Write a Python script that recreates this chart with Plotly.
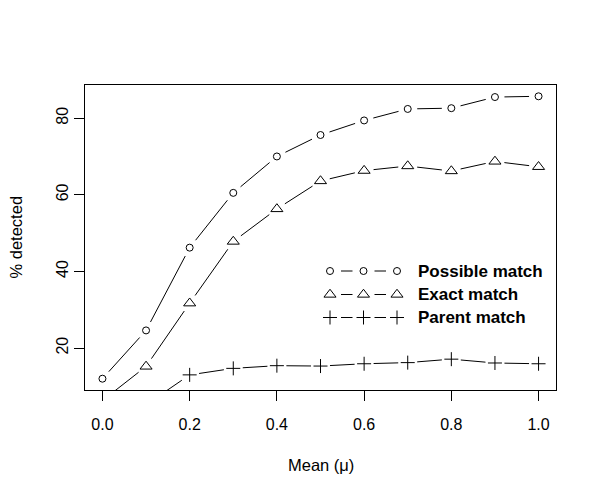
import plotly.graph_objects as go
import numpy as np

# ---- data ----
mu = [0.0, 0.1, 0.2, 0.3, 0.4, 0.5, 0.6, 0.7, 0.8, 0.9, 1.0]
possible = [12.0, 24.6, 46.2, 60.5, 70.0, 75.6, 79.4, 82.4, 82.6, 85.5, 85.7]
exact = [6.3, 15.2, 31.7, 47.8, 56.3, 63.6, 66.3, 67.5, 66.2, 68.7, 67.3]
parent = [3.0, 5.2, 13.0, 14.7, 15.4, 15.3, 15.9, 16.2, 17.1, 16.1, 15.9]
series_names = ["Possible match", "Exact match", "Parent match"]
x_ticks = [0.0, 0.2, 0.4, 0.6, 0.8, 1.0]
x_tick_text = ["0.0", "0.2", "0.4", "0.6", "0.8", "1.0"]
y_ticks = [20, 40, 60, 80]

# ---- layout geometry (page body has an 8px margin) ----
OFF = 8
W, H = 600 - OFF, 497 - OFF
ML, MR, MT, MB = 85 - OFF, 44, 85 - OFF, 107
PW, PH = W - ML - MR, H - MT - MB

# R-style 4% axis extension
def r_range(vals):
    lo, hi = min(vals), max(vals)
    pad = 0.04 * (hi - lo)
    return [lo - pad, hi + pad]

xr = r_range(mu)
yr = r_range(possible)

FONT = "Liberation Sans, Arial, Helvetica, sans-serif"

def gapped(xs, ys, gap):
    """R type='b' style: line segments shortened by gap px at each point."""
    sx = PW / (xr[1] - xr[0])
    sy = PH / (yr[1] - yr[0])
    ox, oy = [], []
    for i in range(len(xs) - 1):
        x0, y0, x1, y1 = xs[i], ys[i], xs[i + 1], ys[i + 1]
        dx, dy = (x1 - x0) * sx, (y1 - y0) * sy
        L = np.hypot(dx, dy)
        if L <= 2 * gap:
            continue
        f = gap / L
        ox += [x0 + (x1 - x0) * f, x1 - (x1 - x0) * f, None]
        oy += [y0 + (y1 - y0) * f, y1 - (y1 - y0) * f, None]
    return ox, oy

fig = go.Figure()

styles = [
    dict(symbol="circle-open", size=7),
    dict(symbol="triangle-up-open", size=10.5),
    dict(symbol="cross-thin-open", size=10),
]
data = [possible, exact, parent]

for ys, st, name in zip(data, styles, series_names):
    lx, ly = gapped(mu, ys, 9.5)
    fig.add_trace(go.Scatter(x=lx, y=ly, mode="lines",
                             line=dict(color="black", width=1),
                             showlegend=False, hoverinfo="skip"))
    fig.add_trace(go.Scatter(x=mu, y=ys, mode="markers", name=name,
                             marker=dict(symbol=st["symbol"], size=st["size"],
                                         color="black",
                                         line=dict(color="black", width=1)),
                             showlegend=False))

# ---- custom legend (overlay axes in plot-pixel coordinates) ----
PX0, PY0 = 85, 85  # screen position of the plot area's top-left corner
leg_x = [330, 363.5, 397]
leg_rows = [271, 294.5, 317.5]
for row, st, name in zip(leg_rows, styles, series_names):
    fig.add_trace(go.Scatter(
        x=[leg_x[0] + 11, leg_x[1] - 11, None, leg_x[1] + 11, leg_x[2] - 11],
        y=[row, row, None, row, row], mode="lines",
        line=dict(color="black", width=1), xaxis="x2", yaxis="y2",
        showlegend=False, hoverinfo="skip"))
    fig.add_trace(go.Scatter(
        x=leg_x, y=[row] * 3, mode="markers", xaxis="x2", yaxis="y2",
        marker=dict(symbol=st["symbol"], size=st["size"], color="black",
                    line=dict(color="black", width=1)),
        showlegend=False, hoverinfo="skip"))
    fig.add_annotation(x=416, y=row, xref="x2", yref="y2", text="<b>%s</b>" % name,
                       showarrow=False, xanchor="left", yanchor="middle",
                       font=dict(family=FONT, size=17, color="black"))

axis_common = dict(showline=True, linecolor="black", linewidth=1, mirror=True,
                   ticks="outside", ticklen=10, tickcolor="black", tickwidth=1,
                   showgrid=False, zeroline=False,
                   tickfont=dict(family=FONT, size=16, color="black"))

fig.update_layout(
    width=W, height=H,
    margin=dict(l=ML, r=MR, t=MT, b=MB),
    paper_bgcolor="white", plot_bgcolor="white",
    xaxis=dict(range=xr, tickvals=x_ticks, ticktext=x_tick_text,
               ticklabelstandoff=10, **axis_common),
    yaxis=dict(range=yr, tickvals=y_ticks, tickangle=-90, **axis_common),
    xaxis2=dict(range=[PX0, PX0 + PW], overlaying="x", visible=False, fixedrange=True),
    yaxis2=dict(range=[PY0 + PH, PY0], overlaying="y", visible=False, fixedrange=True),
)

fig.add_annotation(x=0.5, y=-(465 - (PY0 + PH)) / PH, xref="paper", yref="paper",
                   text="Mean (μ)", showarrow=False, xanchor="center", yanchor="middle",
                   font=dict(family=FONT, size=16.5, color="black"))
fig.add_annotation(x=(15 - PX0) / PW, y=0.5, xref="paper", yref="paper",
                   text="% detected", showarrow=False, textangle=-90,
                   xanchor="center", yanchor="middle",
                   font=dict(family=FONT, size=16.5, color="black"))

fig.write_html("out.html")
